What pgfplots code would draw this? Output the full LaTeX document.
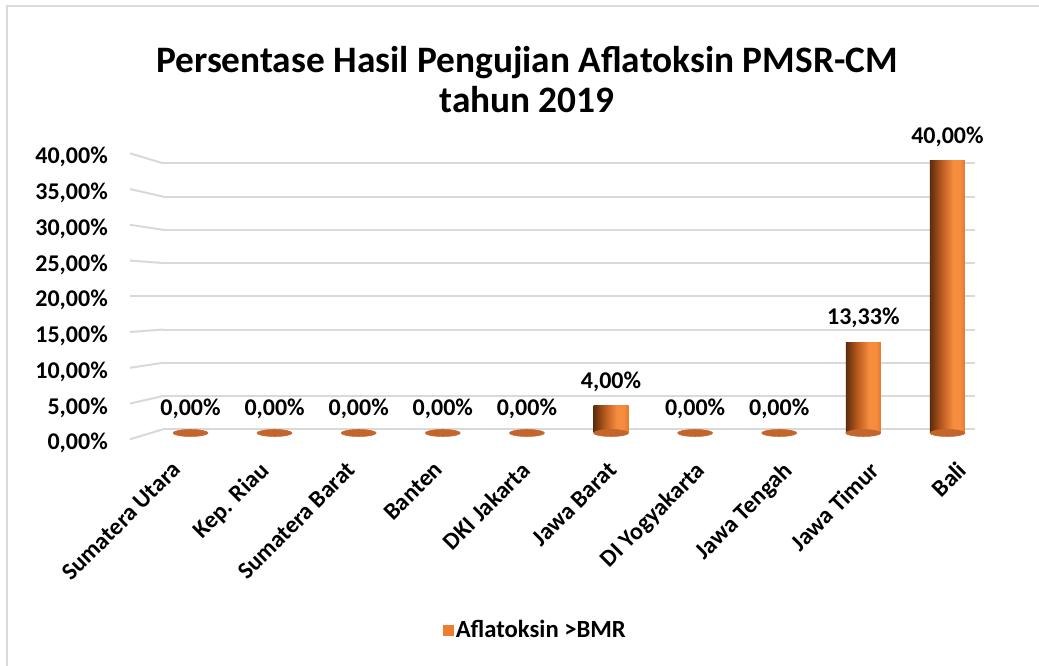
\documentclass[border=0pt]{standalone}
\usepackage{pgfplots}
\usepackage{pgfplotstable}
\pgfplotsset{compat=1.18}
\usepackage{fontspec}
\setmainfont{Carlito}
\definecolor{gridc}{HTML}{D9D9D9}
\definecolor{barc}{HTML}{ED7D31}
\definecolor{basec}{HTML}{C4662C}
\definecolor{cylA}{HTML}{5B2C0C}
\definecolor{cylB}{HTML}{B3561D}
\definecolor{cylC}{HTML}{F68C3E}
\definecolor{cylD}{HTML}{E27A30}
\pgfdeclarehorizontalshading{cyl}{100bp}{color(0bp)=(cylA); color(25bp)=(cylA); color(40bp)=(cylB); color(58bp)=(cylC); color(68bp)=(cylC); color(75bp)=(cylD); color(100bp)=(cylD)}
\pgfplotstableread{
x v z
0 0 0
1 0 0
2 0 0
3 0 0
4 0 0
5 4 0
6 0 0
7 0 0
8 13.33 0
9 40 0
}\data
\pgfplotsset{cylbar/.style={ybar, bar width=26.25pt, draw=none, shade, shading=cyl, unbounded coords=discard, forget plot}}
\begin{document}
\begin{tikzpicture}
\fill[white] (0,0) rectangle (779.25pt,499.5pt);
\useasboundingbox (0,0) rectangle (779.25pt,499.5pt);
\draw[gridc, line width=1.5pt] (5.25pt,0) -- (5.25pt,495pt) -- (779.25pt,495pt);
\node[font=\fontsize{28}{30}\selectfont\bfseries, align=center] at (395.25pt,439.5pt) {Persentase Hasil Pengujian Aflatoksin PMSR-CM\\tahun 2019};
% background grid
\begin{axis}[at={(122.25pt,177.525pt)}, anchor=south west, scale only axis,
  width=609pt, height=199.5pt, xmin=-0.327, xmax=9.328, ymin=0, ymax=40,
  axis line style={draw=none}, xtick=\empty, ytick={0,5,...,40}, yticklabels={},
  major tick length=0pt, ymajorgrids, grid style={gridc, line width=1.5pt}, clip=false]
\draw[gridc, line width=1.5pt] (axis cs:-0.719,-1.5) -- (axis cs:-0.327,0);
\draw[gridc, line width=1.5pt] (axis cs:-0.719,3.875) -- (axis cs:-0.327,5);
\draw[gridc, line width=1.5pt] (axis cs:-0.719,9.25) -- (axis cs:-0.327,10);
\draw[gridc, line width=1.5pt] (axis cs:-0.719,14.625) -- (axis cs:-0.327,15);
\draw[gridc, line width=1.5pt] (axis cs:-0.719,20) -- (axis cs:-0.327,20);
\draw[gridc, line width=1.5pt] (axis cs:-0.719,25.375) -- (axis cs:-0.327,25);
\draw[gridc, line width=1.5pt] (axis cs:-0.719,30.75) -- (axis cs:-0.327,30);
\draw[gridc, line width=1.5pt] (axis cs:-0.719,36.125) -- (axis cs:-0.327,35);
\draw[gridc, line width=1.5pt] (axis cs:-0.719,41.5) -- (axis cs:-0.327,40);
\end{axis}
% tick labels
\begin{axis}[at={(97.5pt,170.025pt)}, anchor=south west, scale only axis,
  width=10pt, height=214.5pt, xmin=0, xmax=1, ymin=0, ymax=40,
  axis line style={draw=none}, xtick=\empty, ytick={0,5,...,40}, major tick length=0pt,
  /pgf/number format/assume math mode=true,
  yticklabel={\pgfmathprintnumber[fixed,fixed zerofill,precision=2,use comma,assume math mode=true]{\tick}\%},
  yticklabel style={font=\fontsize{18}{21}\selectfont\bfseries, anchor=east, inner sep=0pt, xshift=-16.5pt, yshift=-3pt}]
\end{axis}
% bars
\begin{axis}[at={(122.25pt,174.75pt)}, anchor=south west, scale only axis,
  width=609pt, height=204pt, xmin=-0.327, xmax=9.328, ymin=0, ymax=40,
  axis line style={draw=none}, ytick=\empty, major tick length=0pt, clip=false,
  /pgf/number format/assume math mode=true,
  xtick={-0.232,0.805,1.842,2.879,3.916,4.952,5.989,7.026,8.063,9.100},
  xticklabels={Sumatera Utara,Kep. Riau,Sumatera Barat,Banten,DKI Jakarta,Jawa Barat,DI Yogyakarta,Jawa Tengah,Jawa Timur,Bali},
  xticklabel style={font=\fontsize{18}{21}\selectfont\bfseries, yshift=-20.25pt, rotate=45, anchor=north east, inner sep=0pt},
  legend style={draw=none, fill=none, font=\fontsize{18.5}{21}\selectfont\bfseries, at={(0.4588,-0.724)}, anchor=center},
  ]
\addlegendimage{legend image code/.code={\fill[barc] (0pt,-3.75pt) rectangle (7.5pt,3.75pt);}}
\addlegendentry{Aflatoksin >BMR}
\addplot[only marks, color=basec, mark=*, mark size=13.125pt, mark options={yscale=0.2, fill=basec, draw=basec}, forget plot] table[x=x,y=z]{\data};
\addplot[cylbar, x filter/.expression={x==5?x:nan}] table[x=x,y=v]{\data};
\addplot[cylbar, x filter/.expression={x==8?x:nan}] table[x=x,y=v]{\data};
\addplot[cylbar, x filter/.expression={x==9?x:nan}] table[x=x,y=v]{\data};
\addplot[only marks, mark=none, point meta=y, forget plot,
  nodes near coords={\pgfmathprintnumber[fixed,fixed zerofill,precision=2,use comma,assume math mode=true]{\pgfplotspointmeta}\%},
  every node near coord/.append style={font=\fontsize{18}{21}\selectfont\bfseries, anchor=center, yshift=18pt}] table[x=x,y=v]{\data};
\end{axis}
\end{tikzpicture}
\end{document}
